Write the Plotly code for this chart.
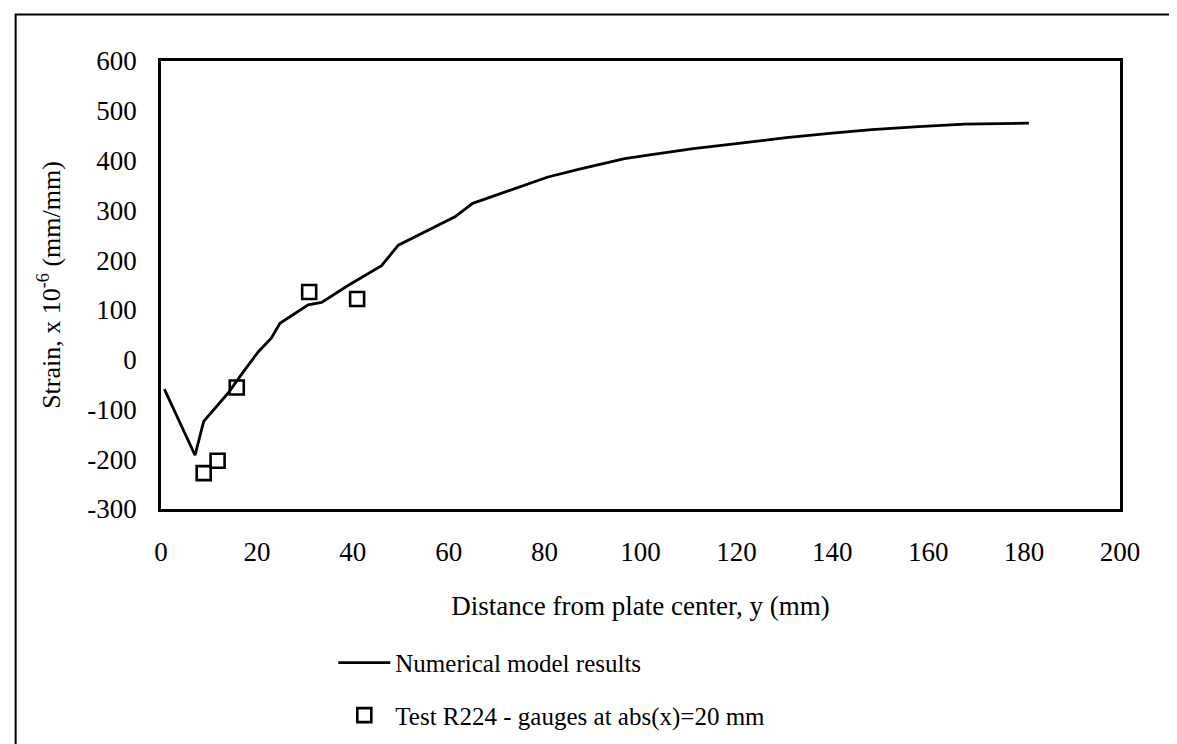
import plotly.graph_objects as go

# Numerical model curve
model_x = [0.7, 7.1, 8.9, 14, 17.2, 20.3, 23, 24.8, 30.7, 33.5, 39, 46, 49.5, 53, 61.3, 65,
           74, 80.7, 87.7, 96.7, 101.6, 111, 120, 130.4, 140, 148.2, 158, 167.6, 181]
model_y = [-59, -192, -124, -67, -24, 16, 43, 73, 110, 115, 149, 189, 230, 247, 287, 314,
           344, 367, 384, 404, 411, 424, 434, 446, 455, 462, 468, 473, 475]

# Test R224 gauges
test_x = [8.9, 11.8, 15.8, 30.9, 40.9]
test_y = [-228, -203, -56, 136, 122]

x_ticks = [0, 20, 40, 60, 80, 100, 120, 140, 160, 180, 200]
y_ticks = [600, 500, 400, 300, 200, 100, 0, -100, -200, -300]
x_labels = [str(v) for v in x_ticks]
y_labels = [str(v) for v in y_ticks]

FONT = "Liberation Serif"
W, H = 1177, 744
L, R, T, B = 152.5, 1112.5, 52.5, 501.0
pw, ph = R - L, B - T

fig = go.Figure()
fig.add_trace(go.Scatter(
    x=model_x, y=model_y, mode="lines", name="Numerical model results",
    line=dict(color="black", width=2.8), legendgroup="a"))
fig.add_trace(go.Scatter(
    x=test_x, y=test_y, mode="markers", name="Test R224 - gauges at abs(x)=20 mm",
    marker=dict(symbol="square-open", size=14, color="black",
                line=dict(width=2.6, color="black")), legendgroup="b"))

def px_x(p):
    return (p - L) / pw

def px_y(p):
    return (B - p) / ph

fig.add_shape(type="rect", xref="paper", yref="paper",
              x0=px_x(7), x1=px_x(1173), y0=px_y(760), y1=px_y(6),
              line=dict(color="black", width=2), fillcolor="rgba(0,0,0,0)", layer="below")

fig.update_layout(
    width=W, height=H,
    margin=dict(l=L, r=W - R, t=T, b=H - B, autoexpand=False),
    paper_bgcolor="white", plot_bgcolor="white",
    font=dict(family=FONT, size=25, color="black"),
    showlegend=True,
    legend=dict(x=px_x(325), y=px_y(632), xanchor="left", yanchor="top",
                font=dict(size=25, family=FONT), tracegroupgap=17,
                bgcolor="rgba(0,0,0,0)", itemwidth=52),
    xaxis=dict(range=[0, 200], tickvals=x_ticks, ticktext=x_labels, showgrid=False,
               zeroline=False, showline=True, linecolor="black", linewidth=2.5, mirror=True,
               ticks="", ticklabelstandoff=17, tickfont=dict(size=27, family=FONT),
               title=dict(text="Distance from plate center, y (mm)", standoff=30,
                          font=dict(size=27, family=FONT))),
    yaxis=dict(range=[-300, 600], tickvals=y_ticks, ticktext=y_labels, showgrid=False,
               zeroline=False, showline=True, linecolor="black", linewidth=2.5, mirror=True,
               ticks="", ticklabelstandoff=16, tickfont=dict(size=27, family=FONT),
               title=dict(text="Strain, x 10<sup>-6</sup> (mm/mm)", standoff=20,
                          font=dict(size=26, family=FONT))),
)

fig.write_html("out.html")
